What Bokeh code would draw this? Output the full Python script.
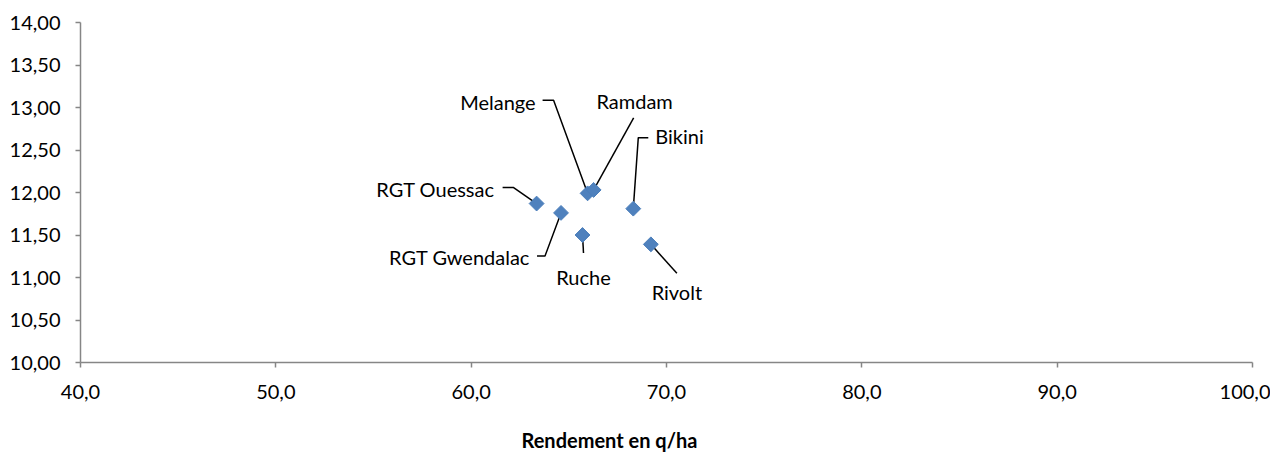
import numpy as np
from bokeh.plotting import figure
from bokeh.models import ColumnDataSource, CustomJSTickFormatter, Label, Range1d, FixedTicker, Title
from bokeh.core.properties import value
from bokeh.embed import file_html
from bokeh.resources import INLINE

# ---- data ----
varieties = ["RGT Ouessac", "RGT Gwendalac", "Ruche", "Melange", "Ramdam", "Bikini", "Rivolt"]
rendement = [63.35, 64.6, 65.7, 65.96, 66.27, 68.3, 69.2]
proteine = [11.87, 11.76, 11.50, 11.99, 12.03, 11.81, 11.39]
x_ticks = [40, 50, 60, 70, 80, 90, 100]
y_ticks = [10.0, 10.5, 11.0, 11.5, 12.0, 12.5, 13.0, 13.5, 14.0]
x_title = "Rendement en q/ha"

# ---- layout ----
FONT = "Lato"
FW, FH = 1172, 340
X0, X1, Y0, Y1 = 40, 100, 10, 14
sx = FW / (X1 - X0)
sy = FH / (Y1 - Y0)

# label placement in pixels relative to point (y downward): text offset, align, leader path
label_pos = {
    "RGT Ouessac":   ((-42, -15), "right",  [(-34, -16), (-23, -16), (0, 0)]),
    "RGT Gwendalac": ((-31, 44), "right",   [(-24, 43), (-16, 43), (0, 0)]),
    "Ruche":         ((1, 42), "center",    [(1, 18), (0, 0)]),
    "Melange":       ((-52, -91), "right",  [(-45, -93), (-34, -93), (0, 0)]),
    "Ramdam":        ((41, -89), "center",  [(40, -72), (0, 0)]),
    "Bikini":        ((22, -73), "left",    [(15, -71), (5, -71), (0, 0)]),
    "Rivolt":        ((26, 48), "center",   [(26, 29), (0, 0)]),
}

p = figure(width=1270, height=455, output_backend="svg", toolbar_location=None,
           x_range=Range1d(X0, X1), y_range=Range1d(Y0, Y1),
           frame_width=FW, frame_height=FH,
           min_border_left=80, min_border_top=22, min_border_right=18, min_border_bottom=0)
p.outline_line_color = None
p.grid.visible = False
p.background_fill_color = "white"
p.border_fill_color = "white"

# leader lines
xs, ys = [], []
for name, xv, yv in zip(varieties, rendement, proteine):
    path = label_pos[name][2]
    xs.append([xv + dx / sx for dx, dy in path])
    ys.append([yv - dy / sy for dx, dy in path])
p.multi_line(xs, ys, line_color="black", line_width=1.5)

# points
src = ColumnDataSource(dict(x=rendement, y=proteine, name=varieties))
p.scatter("x", "y", source=src, marker="square", angle=np.pi / 4, size=10.5,
          fill_color="#4F81BD", line_color="#4A7EBB", line_width=1)

# labels
for name, xv, yv in zip(varieties, rendement, proteine):
    (dx, dy), align, _ = label_pos[name]
    p.add_layout(Label(x=xv, y=yv, x_offset=dx, y_offset=-dy, text=name,
                       text_align=align, text_baseline="middle",
                       text_font=FONT, text_font_size="20px", text_color="#000000"))

# axes
for ax in (p.xaxis[0], p.yaxis[0]):
    ax.axis_line_color = "#868686"
    ax.axis_line_width = 1.5
    ax.major_tick_line_color = "#868686"
    ax.major_tick_line_width = 1.5
    ax.major_tick_in = 0
    ax.major_tick_out = 5
    ax.minor_tick_line_color = None
    ax.major_label_text_font = FONT
    ax.major_label_text_font_size = "20px"
    ax.major_label_text_color = "#000000"

p.xaxis.ticker = FixedTicker(ticks=x_ticks)
p.yaxis.ticker = FixedTicker(ticks=y_ticks)
p.xaxis.formatter = CustomJSTickFormatter(code="return tick.toFixed(1).replace('.', ',');")
p.yaxis.formatter = CustomJSTickFormatter(code="return tick.toFixed(2).replace('.', ',');")
p.xaxis.major_label_standoff = 17
p.yaxis.major_label_standoff = 15

p.add_layout(Title(text=x_title, align="left", offset=441, standoff=48,
                   text_font=FONT, text_font_style="bold", text_font_size="20px",
                   text_color="#000000"), "below")

open("out.html", "w").write(file_html(p, INLINE))
